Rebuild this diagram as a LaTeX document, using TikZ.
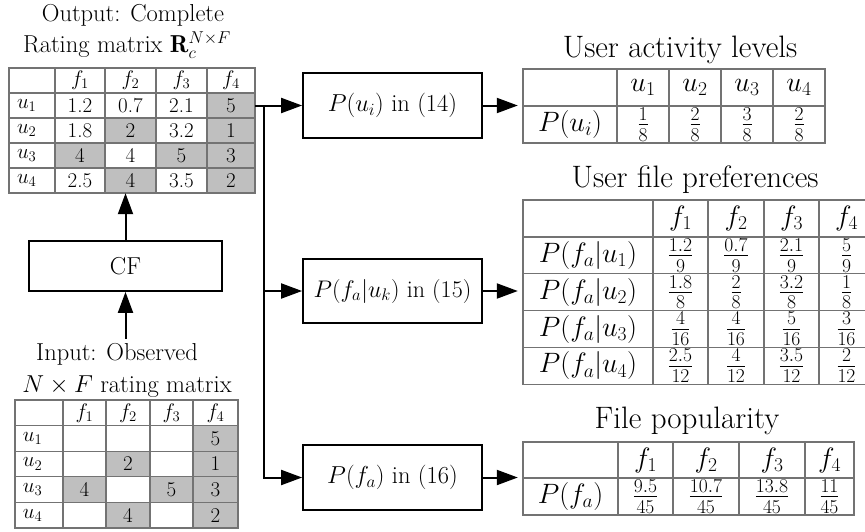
\RequirePackage{fix-cm}
\documentclass[tikz,border=0pt]{standalone}
\usepackage{fontspec}
\usetikzlibrary{arrows.meta,calc}
\tikzset{
  tabline/.style={draw=black!55, line width=1.2pt, line cap=rect},
  arr/.style={line width=2pt, -{Triangle[length=21pt,width=15pt]}},
  bx/.style={draw, line width=1.8pt, minimum width=179pt, minimum height=65pt, inner sep=0pt, font=\fontsize{24.5}{28}\selectfont},
  lt/.style={font=\fontsize{24.5}{28}\selectfont, inner sep=0pt},
  rt/.style={font=\fontsize{31}{35}\selectfont, inner sep=0pt},
  mL/.style={font=\fontsize{21}{25}\selectfont, align=left, xshift=4pt},
  mC/.style={font=\fontsize{21}{25}\selectfont, align=center},
  pC/.style={font=\fontsize{28}{32}\selectfont, align=center},
}
\newcommand\tcell[7]{%
  \pgfmathsetmacro\xa{{#2}[#5]}%
  \pgfmathsetmacro\xb{{#2}[#5+1]}%
  \pgfmathsetmacro\ya{{#3}[#4]}%
  \pgfmathsetmacro\yb{{#3}[#4+1]}%
  \pgfmathsetmacro\cw{\xb-\xa-8}%
  \node[inner xsep=4pt, inner ysep=0pt, text width=\cw pt, minimum height={\yb-\ya}, #6] (#1-#4-#5) at ({(\xa+\xb)/2},{(\ya+\yb)/2}) {#7};}
\newcommand\trow[7]{%
  \foreach \t/\f [count=\c from 0] in {#7} {%
    \ifnum\c=0 \tcell{#1}{#2}{#3}{#4}{\c}{#5, fill=\f}{\t}%
    \else \tcell{#1}{#2}{#3}{#4}{\c}{#6, fill=\f}{\t}\fi}}
\newcommand\tgrid[6]{%
  \foreach \gx in #1 {\draw[tabline] (\gx,#5) -- (\gx,#6);}
  \foreach \gy in #2 {\draw[tabline] (#3,\gy) -- (#4,\gy);}}
\def\xC{9,55,105,156,207,255}
\def\yC{68,93,118,143,168,193}
\def\xO{15,63,106,150,193,238}
\def\yO{400,425.6,451.2,476.8,502.4,528}
\def\xA{523,617,669,721,773,825}
\def\yA{69,106,143}
\def\xP{523,653,708,764,819,874}
\def\yP{200,237,273.8,310.6,347.4,384.2}
\def\xF{523,618,673,739,805,854}
\def\yF{442,478,515}
\begin{document}
\begin{tikzpicture}[x=1pt,y=-1pt]
\useasboundingbox (0,0) rectangle (865,531);

% ---------- output (complete) matrix ----------
\node[lt] (tC1) at (133,15) {Output: Complete};
\node[lt] (tC2) at (127,45) {Rating matrix $\mathbf{R}_c^{N\times F}$};
\trow{mC}{\xC}{\yC}{0}{mC}{mC}{{}/none,$f_1$/none,$f_2$/none,$f_3$/none,$f_4$/none}
\trow{mC}{\xC}{\yC}{1}{mL}{mC}{$u_1$/none,1.2/none,0.7/none,2.1/none,5/gray!50}
\trow{mC}{\xC}{\yC}{2}{mL}{mC}{$u_2$/none,1.8/none,2/gray!50,3.2/none,1/gray!50}
\trow{mC}{\xC}{\yC}{3}{mL}{mC}{$u_3$/none,4/gray!50,4/none,5/gray!50,3/gray!50}
\trow{mC}{\xC}{\yC}{4}{mL}{mC}{$u_4$/none,2.5/none,4/gray!50,3.5/none,2/gray!50}
\tgrid{\xC}{\yC}{9}{255}{68}{193}

% ---------- CF ----------
\node[bx, minimum width=193pt, minimum height=50pt] (CF) at (125.5,266) {CF};

% ---------- input (observed) matrix ----------
\node[lt] (tO1) at (117,354) {Input: Observed};
\node[lt] (tO2) at (127,387) {$N\times F$ rating matrix};
\trow{mO}{\xO}{\yO}{0}{mC}{mC}{{}/none,$f_1$/none,$f_2$/none,$f_3$/none,$f_4$/none}
\trow{mO}{\xO}{\yO}{1}{mL}{mC}{$u_1$/none,{}/none,{}/none,{}/none,5/gray!50}
\trow{mO}{\xO}{\yO}{2}{mL}{mC}{$u_2$/none,{}/none,2/gray!50,{}/none,1/gray!50}
\trow{mO}{\xO}{\yO}{3}{mL}{mC}{$u_3$/none,4/gray!50,{}/none,5/gray!50,3/gray!50}
\trow{mO}{\xO}{\yO}{4}{mL}{mC}{$u_4$/none,{}/none,4/gray!50,{}/none,2/gray!50}
\tgrid{\xO}{\yO}{15}{238}{400}{528}

% ---------- boxes ----------
\node[bx] (B1) at (392.5,105.5) {$P(u_i)$ in (14)};
\node[bx, minimum height=64pt, font=\fontsize{24}{28}\selectfont] (B2) at (392.5,291) {$P(f_a|u_k)$ in (15)};
\node[bx] (B3) at (392.5,477.5) {$P(f_a)$ in (16)};

% ---------- user activity levels ----------
\node[rt] (tA) at (680,50) {User activity levels};
\trow{mA}{\xA}{\yA}{0}{pC}{pC}{{}/none,$u_1$/none,$u_2$/none,$u_3$/none,$u_4$/none}
\trow{mA}{\xA}{\yA}{1}{pC}{pC}{$P(u_i)$/none,$\frac{1}{8}$/none,$\frac{2}{8}$/none,$\frac{3}{8}$/none,$\frac{2}{8}$/none}
\tgrid{\xA}{\yA}{523}{825}{69}{143}

% ---------- user file preferences ----------
\node[rt] (tP) at (695,180) {User file preferences};
\trow{mP}{\xP}{\yP}{0}{pC}{pC}{{}/none,$f_1$/none,$f_2$/none,$f_3$/none,$f_4$/none}
\trow{mP}{\xP}{\yP}{1}{pC}{pC}{$P(f_a|u_1)$/none,$\frac{1.2}{9}$/none,$\frac{0.7}{9}$/none,$\frac{2.1}{9}$/none,$\frac{5}{9}$/none}
\trow{mP}{\xP}{\yP}{2}{pC}{pC}{$P(f_a|u_2)$/none,$\frac{1.8}{8}$/none,$\frac{2}{8}$/none,$\frac{3.2}{8}$/none,$\frac{1}{8}$/none}
\trow{mP}{\xP}{\yP}{3}{pC}{pC}{$P(f_a|u_3)$/none,$\frac{4}{16}$/none,$\frac{4}{16}$/none,$\frac{5}{16}$/none,$\frac{3}{16}$/none}
\trow{mP}{\xP}{\yP}{4}{pC}{pC}{$P(f_a|u_4)$/none,$\frac{2.5}{12}$/none,$\frac{4}{12}$/none,$\frac{3.5}{12}$/none,$\frac{2}{12}$/none}
\tgrid{\xP}{\yP}{523}{874}{200}{384.2}

% ---------- file popularity ----------
\node[rt] (tF) at (687,421) {File popularity};
\trow{mF}{\xF}{\yF}{0}{pC}{pC}{{}/none,$f_1$/none,$f_2$/none,$f_3$/none,$f_4$/none}
\trow{mF}{\xF}{\yF}{1}{pC}{pC}{$P(f_a)$/none,$\frac{9.5}{45}$/none,$\frac{10.7}{45}$/none,$\frac{13.8}{45}$/none,$\frac{11}{45}$/none}
\tgrid{\xF}{\yF}{523}{854}{442}{515}

% ---------- connectors ----------
\draw[arr] ($(tO1.north -| CF.south)+(0,-4)$) -- (CF.south);
\draw[arr] (CF.north) -- (CF.north |- mC-4-2.south);
\draw[arr] (mC-1-4.east) -- (B1.west);
\coordinate (br) at ($(mC-1-4.east)+(9,0)$);
\draw[arr] (br) |- (B3.west);
\draw[arr] (br |- B2.west) -- (B2.west);
\draw[arr, shorten >=5pt] (B1.east) -- (B1.east -| mA-0-0.west);
\draw[arr, shorten >=5pt] (B2.east) -- (B2.east -| mP-0-0.west);
\draw[arr, shorten >=5pt] (B3.east) -- (B3.east -| mF-0-0.west);
\end{tikzpicture}
\end{document}
